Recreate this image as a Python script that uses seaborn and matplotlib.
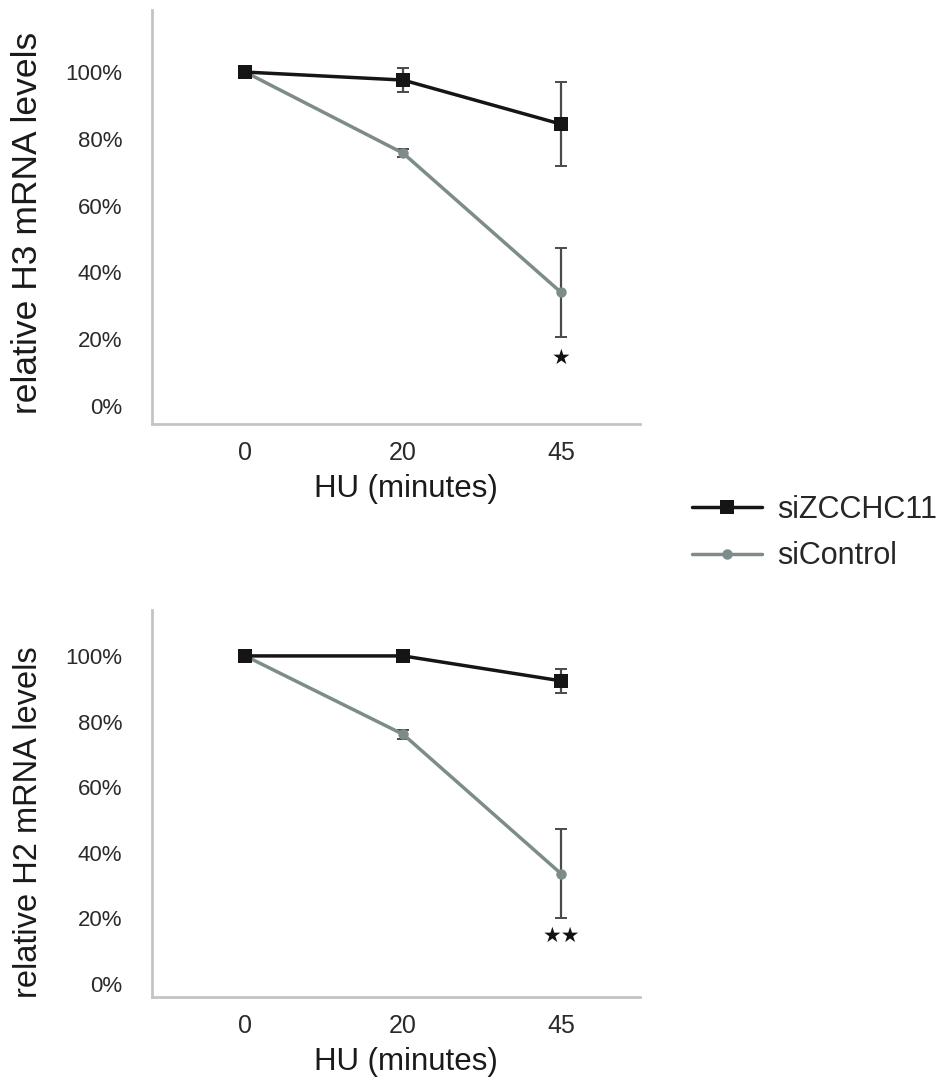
import pandas as pd
import seaborn as sns
import matplotlib.pyplot as plt

# time points (minutes of HU)
times = ['0', '20', '45']
groups = ['siZCCHC11', 'siControl']

# H3 panel (percent of t=0)
h3_zcchc11 = [100, 97.6, 84.4]
h3_zcchc11_err = [0, 3.6, 12.5]
h3_control = [100, 75.7, 34.0]
h3_control_err = [0, 1.2, 13.3]

# H2 panel
h2_zcchc11 = [100, 100, 92.4]
h2_zcchc11_err = [0, 0, 3.6]
h2_control = [100, 76.1, 33.6]
h2_control_err = [0, 1.3, 13.5]

yticks = [0, 20, 40, 60, 80, 100]
ytick_labels = ['0%', '20%', '40%', '60%', '80%', '100%']

colors = {'siZCCHC11': '#151515', 'siControl': '#7d8c8a'}
markers = {'siZCCHC11': 's', 'siControl': 'o'}
msizes = {'siZCCHC11': 10, 'siControl': 7.5}

sns.set_style('white')
plt.rcParams['font.family'] = ['Liberation Sans', 'DejaVu Sans']

fig = plt.figure(figsize=(9.44, 10.81), dpi=100)
ax1 = fig.add_axes([0.161, 0.6078, 0.517, 0.383])
ax2 = fig.add_axes([0.161, 0.0777, 0.517, 0.358])


def draw_panel(ax, zc, zc_err, ctl, ctl_err, ylabel, ylim, stars, star_y,
               ylabel_size, ylabel_y):
    df = pd.DataFrame({
        'time': times * 2,
        'level': zc + ctl,
        'group': ['siZCCHC11'] * 3 + ['siControl'] * 3,
    })
    errs = {'siZCCHC11': zc_err, 'siControl': ctl_err}
    # control first so the black line sits on top at t=0
    for g, z in [('siControl', 2), ('siZCCHC11', 3)]:
        sub = df[df['group'] == g]
        ax.errorbar(sub['time'], sub['level'], yerr=errs[g], fmt='none',
                    ecolor='#4a4a4a', elinewidth=1.6, capsize=4.5, capthick=1.4,
                    zorder=z)
        sns.lineplot(data=sub, x='time', y='level', ax=ax, color=colors[g],
                     marker=markers[g], markersize=msizes[g], markeredgewidth=0,
                     linewidth=2.5, label=g, legend=False, zorder=z + 0.5)
    ax.text(2, star_y, stars, ha='center', va='center', fontsize=15,
            family='DejaVu Sans', color='#111111')
    ax.set_xlim(-0.59, 2.5)
    ax.set_ylim(*ylim)
    ax.set_yticks(yticks)
    ax.set_yticklabels(ytick_labels)
    ax.set_xlabel('HU (minutes)', fontsize=22.5, labelpad=7, color='#1a1a1a')
    ax.xaxis.label.set_x(0.52)
    ax.set_ylabel(ylabel, fontsize=ylabel_size, color='#1a1a1a')
    ax.yaxis.set_label_coords(-0.222, ylabel_y)
    ax.tick_params(axis='y', length=9, width=1.3, color='#999999', pad=12.5,
                   labelsize=16, labelcolor='#2a2a2a')
    ax.tick_params(axis='x', length=0, pad=12, labelsize=18, labelcolor='#2a2a2a')
    for s in ['top', 'right']:
        ax.spines[s].set_visible(False)
    for s in ['left', 'bottom']:
        ax.spines[s].set_color('#c4c4c4')
        ax.spines[s].set_linewidth(2)


draw_panel(ax1, h3_zcchc11, h3_zcchc11_err, h3_control, h3_control_err,
           'relative H3 mRNA levels', (-5.4, 118.6), '★', 14.4, 25.5, 0.486)
draw_panel(ax2, h2_zcchc11, h2_zcchc11_err, h2_control, h2_control_err,
           'relative H2 mRNA levels', (-4.0, 114.0), '★★', 14.5, 23.5, 0.452)

handles, labels = ax1.get_legend_handles_labels()
order = [labels.index(g) for g in groups]
fig.legend([handles[i] for i in order], groups, loc='center left',
           bbox_to_anchor=(0.704, 0.507), frameon=False, fontsize=22,
           handlelength=2.3, labelspacing=0.55, handletextpad=0.5)

fig.savefig('out.png', dpi=100)
